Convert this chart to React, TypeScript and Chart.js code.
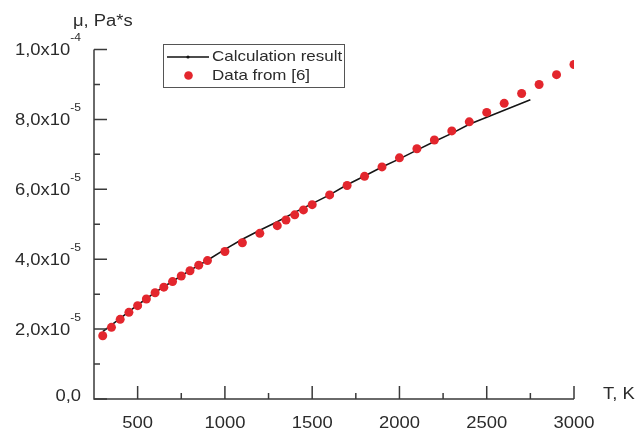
import React, { useEffect, useRef } from "react";
import { Chart, registerables } from "chart.js";

Chart.register(...registerables);

// Calculation result (T, K ; mu, Pa*s)
const calcT = [300, 400, 500, 600, 700, 800, 900, 1000, 1100, 1200, 1300, 1400, 1500, 1600, 1700, 1800, 1900, 2000, 2100, 2200, 2300, 2400, 2500, 2600, 2700, 2750];
const calcMu = [1.926e-5, 2.31e-5, 2.69e-5, 3.05e-5, 3.37e-5, 3.68e-5, 3.97e-5, 4.28e-5, 4.57e-5, 4.83e-5, 5.07e-5, 5.34e-5, 5.59e-5, 5.84e-5, 6.13e-5, 6.38e-5, 6.64e-5, 6.87e-5, 7.12e-5, 7.37e-5, 7.6e-5, 7.86e-5, 8.06e-5, 8.26e-5, 8.46e-5, 8.56e-5];

// Data from [6]
const dataT = [300, 350, 400, 450, 500, 550, 600, 650, 700, 750, 800, 850, 900, 1000, 1100, 1200, 1300, 1350, 1400, 1450, 1500, 1600, 1700, 1800, 1900, 2000, 2100, 2200, 2300, 2400, 2500, 2600, 2700, 2800, 2900, 3000];
const dataMu = [1.81e-5, 2.05e-5, 2.28e-5, 2.48e-5, 2.67e-5, 2.86e-5, 3.04e-5, 3.2e-5, 3.36e-5, 3.52e-5, 3.67e-5, 3.83e-5, 3.96e-5, 4.22e-5, 4.47e-5, 4.74e-5, 4.96e-5, 5.12e-5, 5.27e-5, 5.41e-5, 5.56e-5, 5.84e-5, 6.11e-5, 6.37e-5, 6.64e-5, 6.9e-5, 7.16e-5, 7.41e-5, 7.67e-5, 7.93e-5, 8.2e-5, 8.46e-5, 8.74e-5, 9.0e-5, 9.28e-5, 9.57e-5];

// Axis ticks
const xMajorTicks = [500, 1000, 1500, 2000, 2500, 3000];
const xMinorTicks = [750, 1250, 1750, 2250, 2750];
const xTickLabels = ["500", "1000", "1500", "2000", "2500", "3000"];
const yMajorTicks = [0, 2e-5, 4e-5, 6e-5, 8e-5, 1e-4];
const yMinorTicks = [1e-5, 3e-5, 5e-5, 7e-5, 9e-5];
const yTickMain = ["0,0", "2,0x10", "4,0x10", "6,0x10", "8,0x10", "1,0x10"];
const yTickExp = ["", "-5", "-5", "-5", "-5", "-4"];

const seriesNames = ["Calculation result", "Data from [6]"];
const yAxisTitle = "\u03bc, Pa*s";
const xAxisTitle = "T, K";

const FONT = "'Liberation Sans', Arial, sans-serif";
const TEXT = "#2b2b2b";
const AXIS = "#3a3a3a";
const RED = "#e3262d";

function stretchedText(ctx: CanvasRenderingContext2D, text: string, x: number, y: number, size: number, align: "left" | "right" | "center", sx = 1.15) {
  ctx.save();
  ctx.font = `${size}px ${FONT}`;
  ctx.textBaseline = "middle";
  ctx.textAlign = "left";
  const w = ctx.measureText(text).width * sx;
  let left = x;
  if (align === "right") left = x - w;
  else if (align === "center") left = x - w / 2;
  ctx.translate(left, y);
  ctx.scale(sx, 1);
  ctx.fillText(text, 0, 0);
  ctx.restore();
  return w;
}

function textWidth(ctx: CanvasRenderingContext2D, text: string, size: number, sx = 1.15) {
  ctx.save();
  ctx.font = `${size}px ${FONT}`;
  const w = ctx.measureText(text).width * sx;
  ctx.restore();
  return w;
}

const axesPlugin = {
  id: "customAxes",
  afterDraw(chart: any) {
    const ctx: CanvasRenderingContext2D = chart.ctx;
    const xs = chart.scales.x;
    const ys = chart.scales.y;
    const xL = xs.getPixelForValue(250);
    const xR = xs.getPixelForValue(3000);
    const yB = ys.getPixelForValue(0);
    const yT = ys.getPixelForValue(1e-4);
    ctx.save();
    ctx.strokeStyle = AXIS;
    ctx.lineWidth = 1.5;
    ctx.beginPath();
    ctx.moveTo(xL, yT);
    ctx.lineTo(xL, yB);
    ctx.lineTo(xR, yB);
    ctx.stroke();
    // ticks
    ctx.beginPath();
    yMajorTicks.forEach((v) => {
      const p = ys.getPixelForValue(v);
      ctx.moveTo(xL, p);
      ctx.lineTo(xL + 13, p);
    });
    yMinorTicks.forEach((v) => {
      const p = ys.getPixelForValue(v);
      ctx.moveTo(xL, p);
      ctx.lineTo(xL + 6, p);
    });
    xMajorTicks.forEach((v) => {
      const p = xs.getPixelForValue(v);
      ctx.moveTo(p, yB);
      ctx.lineTo(p, yB - 13);
    });
    xMinorTicks.forEach((v) => {
      const p = xs.getPixelForValue(v);
      ctx.moveTo(p, yB);
      ctx.lineTo(p, yB - 6);
    });
    ctx.stroke();

    ctx.fillStyle = TEXT;
    // x tick labels
    xMajorTicks.forEach((v, i) => {
      const p = xs.getPixelForValue(v);
      stretchedText(ctx, xTickLabels[i], p, yB + 25, 16, "center");
    });
    // y tick labels
    const labelRight = xL - 13;
    yMajorTicks.forEach((v, i) => {
      const p = ys.getPixelForValue(v);
      const exp = yTickExp[i];
      if (exp) {
        const we = textWidth(ctx, exp, 10.5);
        stretchedText(ctx, exp, labelRight, p - 11, 10.5, "right");
        stretchedText(ctx, yTickMain[i], labelRight - we, p + 1.5, 16, "right");
      } else {
        stretchedText(ctx, yTickMain[i], labelRight, p - 2, 16, "right");
      }
    });
    // axis titles
    stretchedText(ctx, yAxisTitle, 73, 22, 16, "left");
    stretchedText(ctx, xAxisTitle, 603, 395, 16, "left");

    // legend
    ctx.strokeStyle = "#555";
    ctx.lineWidth = 1;
    ctx.strokeRect(163.5, 44.5, 181, 43);
    ctx.strokeStyle = "#111";
    ctx.lineWidth = 1.5;
    ctx.beginPath();
    ctx.moveTo(167, 57);
    ctx.lineTo(209, 57);
    ctx.stroke();
    ctx.fillStyle = "#111";
    ctx.beginPath();
    ctx.arc(188, 57, 1.6, 0, Math.PI * 2);
    ctx.fill();
    ctx.fillStyle = RED;
    ctx.beginPath();
    ctx.arc(188.5, 75.5, 4.3, 0, Math.PI * 2);
    ctx.fill();
    ctx.fillStyle = TEXT;
    stretchedText(ctx, seriesNames[0], 212, 57, 14.5, "left", 1.17);
    stretchedText(ctx, seriesNames[1], 212, 76, 14.5, "left", 1.17);
    ctx.restore();
  },
};

export default function App() {
  const ref = useRef<HTMLCanvasElement | null>(null);
  useEffect(() => {
    if (!ref.current) return;
    const chart = new Chart(ref.current, {
      type: "scatter",
      data: {
        datasets: [
          {
            label: seriesNames[1],
            data: dataT.map((t, i) => ({ x: t, y: dataMu[i] })),
            backgroundColor: RED,
            borderColor: RED,
            borderWidth: 0,
            pointRadius: 4.5,
            showLine: false,
            clip: { left: 20, top: 20, right: 0, bottom: 20 } as any,
          },
          {
            label: seriesNames[0],
            data: calcT.map((t, i) => ({ x: t, y: calcMu[i] })),
            borderColor: "#151515",
            backgroundColor: "#151515",
            borderWidth: 1.6,
            pointRadius: 0,
            showLine: true,
            tension: 0,
          },
        ],
      },
      options: {
        responsive: false,
        animation: false,
        devicePixelRatio: 1,
        layout: { padding: { left: 94, right: 61, top: 49.5, bottom: 34 } },
        plugins: { legend: { display: false }, tooltip: { enabled: false } },
        scales: {
          x: { type: "linear", min: 250, max: 3000, display: false },
          y: { type: "linear", min: 0, max: 1e-4, display: false },
        },
      },
      plugins: [axesPlugin],
    });
    return () => chart.destroy();
  }, []);
  return (
    <div style={{ position: "fixed", left: 0, top: 0, width: 635, height: 433, background: "#fff" }}>
      <canvas ref={ref} width={635} height={433} style={{ width: 635, height: 433, display: "block" }} />
    </div>
  );
}
